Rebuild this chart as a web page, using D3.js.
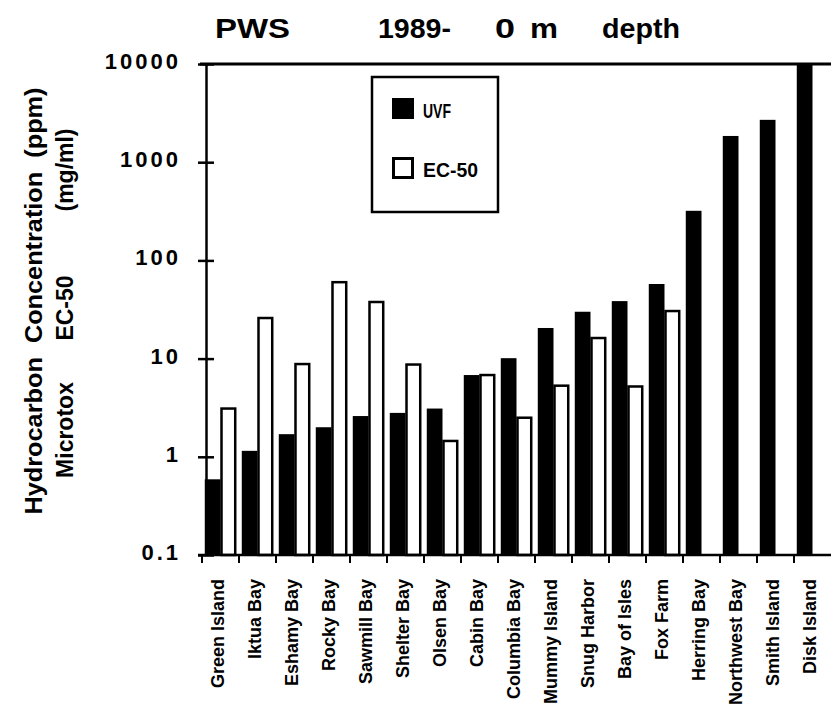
<!DOCTYPE html>
<html>
<head>
<meta charset="utf-8">
<script src="https://cdn.jsdelivr.net/npm/d3@7"></script>
<style>
  html, body { margin: 0; padding: 0; background: #fff; }
  svg { display: block; font-family: "Liberation Sans", Arial, Helvetica, sans-serif; font-weight: bold; }
</style>
</head>
<body>
<svg id="chart" width="831" height="716"></svg>
<script>
const sites = ["Green Island","Iktua Bay","Eshamy Bay","Rocky Bay","Sawmill Bay","Shelter Bay","Olsen Bay","Cabin Bay","Columbia Bay","Mummy Island","Snug Harbor","Bay of Isles","Fox Farm","Herring Bay","Northwest Bay","Smith Island","Disk Island"];
const uvf  = [0.59, 1.15, 1.7, 2.0, 2.6, 2.8, 3.1, 6.8, 10.1, 20.5, 30, 38.5, 57.5, 320, 1850, 2700, 10000];
const ec50 = [3.1, 25.9, 8.8, 60, 37.7, 8.7, 1.45, 6.8, 2.5, 5.3, 16.2, 5.2, 30.5, null, null, null, null];
const seriesNames = ["UVF", "EC-50"];
const yTickValues = [0.1, 1, 10, 100, 1000, 10000];
const yTickLabels = ["0.1", "1", "10", "100", "1000", "10000"];
const titleParts = ["PWS", "1989-", "0", "m", "depth"];
const yTitle1 = "Hydrocarbon  Concentration  (ppm)";
const yTitle2 = ["Microtox", "EC-50", "(mg/ml)"];

const svg = d3.select("#chart");

const x = d3.scaleBand().domain(sites).range([202, 831]).paddingInner(0.15).paddingOuter(0.075);
const xs = d3.scaleBand().domain(seriesNames).range([0, x.bandwidth()]).padding(0);
const y = d3.scaleLog().domain([0.1, 10000]).range([555, 64]);

const rows = sites.map((s, i) => ({ site: s, vals: [
  { key: "UVF", v: uvf[i] }, { key: "EC-50", v: ec50[i] } ] }));

// Bars
const g = svg.append("g");
const grp = g.selectAll("g.site").data(rows).join("g")
  .attr("transform", d => `translate(${x(d.site)},0)`);
grp.selectAll("rect").data(d => d.vals.filter(v => v.v != null)).join("rect")
  .attr("x", d => xs(d.key) + (d.key === "EC-50" ? 1 : 0))
  .attr("width", d => xs.bandwidth() - (d.key === "EC-50" ? 2 : 0))
  .attr("y", d => y(d.v))
  .attr("height", d => y(0.1) - y(d.v))
  .attr("fill", d => d.key === "UVF" ? "#000" : "#fff")
  .attr("stroke", "#000")
  .attr("stroke-width", d => d.key === "UVF" ? 0 : 2.5);

// Top frame line
svg.append("line").attr("x1", 200).attr("x2", 831).attr("y1", y(10000)).attr("y2", y(10000))
  .attr("stroke", "#000").attr("stroke-width", 3);

// Y axis
const yAxis = d3.axisLeft(y).tickValues(yTickValues)
  .tickFormat((d, i) => yTickLabels[i]).tickSizeInner(8).tickSizeOuter(0).tickPadding(17);
const ya = svg.append("g").attr("transform", "translate(206,0)").call(yAxis);
ya.attr("font-family", null);
ya.select(".domain").attr("stroke-width", 2.5);
ya.selectAll(".tick line").attr("stroke-width", 2.5).attr("x2", -8).attr("x1", 8);
ya.selectAll(".tick text").attr("font-size", 22).attr("font-weight", "bold")
  .attr("letter-spacing", 3).attr("dy", "0.2em").attr("fill", "#000");

// X axis baseline + boundary ticks
svg.append("line").attr("x1", 198).attr("x2", 831).attr("y1", y(0.1)).attr("y2", y(0.1))
  .attr("stroke", "#000").attr("stroke-width", 2.5);
const gap = (x.step() - x.bandwidth()) / 2;
svg.append("g").selectAll("line").data(sites).join("line")
  .attr("x1", d => x(d) - gap).attr("x2", d => x(d) - gap)
  .attr("y1", y(0.1)).attr("y2", y(0.1) + 8)
  .attr("stroke", "#000").attr("stroke-width", 2);

// X labels
const xAxis = d3.axisBottom(x).tickSize(0).tickPadding(0);
const xa = svg.append("g").attr("transform", `translate(-3,${y(0.1)})`).call(xAxis);
xa.select(".domain").remove();
xa.attr("font-family", null);
xa.selectAll(".tick text")
  .attr("transform", "rotate(-90)")
  .attr("x", -24).attr("y", 0).attr("dy", "0.38em")
  .attr("text-anchor", "end")
  .attr("font-size", 18).attr("font-weight", "bold").attr("fill", "#000");

// Title
const titleX = [215, 378, 495, 530, 602];
const titleW = [75, 73, 20, 28, 78];
svg.append("g").selectAll("text").data(titleParts).join("text")
  .attr("x", (d, i) => titleX[i]).attr("y", 38)
  .attr("font-size", 28).attr("textLength", (d, i) => titleW[i])
  .attr("lengthAdjust", "spacingAndGlyphs")
  .text(d => d);

// Y axis title (two lines)
svg.append("text")
  .attr("transform", "translate(42,301) rotate(-90)")
  .attr("text-anchor", "middle").attr("font-size", 23)
  .attr("textLength", 427).attr("lengthAdjust", "spacingAndGlyphs")
  .style("white-space", "pre")
  .text(yTitle1);
const yt2pos = [430, 308, 170];
svg.append("g").selectAll("text").data(yTitle2).join("text")
  .attr("transform", (d, i) => `translate(73,${yt2pos[i]}) rotate(-90)`)
  .attr("text-anchor", "middle").attr("font-size", 23).text(d => d);

// Legend
const lg = svg.append("g");
lg.append("rect").attr("x", 372).attr("y", 77).attr("width", 126).attr("height", 135)
  .attr("fill", "#fff").attr("stroke", "#000").attr("stroke-width", 2.5);
const legendY = [98, 157];
lg.selectAll("rect.sw").data(seriesNames).join("rect").attr("class", "sw")
  .attr("x", (d, i) => i === 0 ? 392 : 393.5).attr("y", (d, i) => i === 0 ? legendY[i] : legendY[i] + 1.5)
  .attr("width", (d, i) => i === 0 ? 22 : 19).attr("height", (d, i) => i === 0 ? 21 : 19)
  .attr("fill", (d, i) => i === 0 ? "#000" : "#fff")
  .attr("stroke", "#000").attr("stroke-width", (d, i) => i === 0 ? 0 : 3);
lg.selectAll("text").data(seriesNames).join("text")
  .attr("x", 423).attr("y", (d, i) => legendY[i] + 20)
  .attr("font-size", 20)
  .attr("textLength", (d, i) => i === 0 ? 28 : 55).attr("lengthAdjust", "spacingAndGlyphs")
  .text(d => d);
</script>
</body>
</html>
